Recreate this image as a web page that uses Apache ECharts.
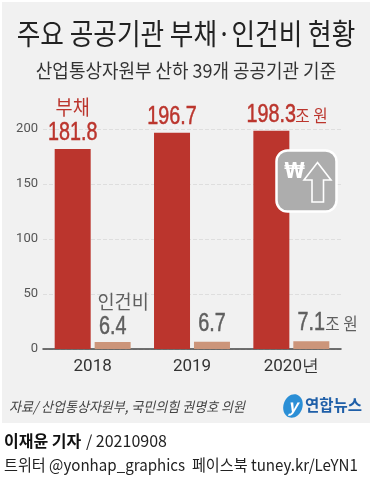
<!DOCTYPE html>
<html><head><meta charset="utf-8">
<style>html,body{margin:0;padding:0;background:#fff}#c{width:372px;height:500px}</style>
<script src="https://cdn.jsdelivr.net/npm/echarts@6/dist/echarts.min.js"></script>
</head><body><div id="c"></div>
<script>
const categories = ['2018', '2019', '2020년'];
const debt = [181.8, 196.7, 198.3];
const labor = [6.4, 6.7, 7.1];
const yTicks = [0, 50, 100, 150, 200];
const KR = '"Noto Sans CJK KR","Noto Sans",sans-serif';
const NUM = '"Liberation Sans",Arial,sans-serif';
const RED = '#bb352d', TAN = '#cc957a', GREY = '#5f5f5f';

function txt(x, y, text, size, color, align, extra, sx, z) {
  return {type:'text', x, y, z:z||50, silent:true, scaleX:sx||1,
    style:Object.assign({text, fontSize:size, fill:color, fontFamily:KR, align:align||'center', verticalAlign:'middle'}, extra||{})};
}
function label(x, y, text, size, color, font, sx, align, bold) {
  return {type:'text', x, y, scaleX:sx, silent:true,
    style:{text, fontSize:size, fontFamily:font, fill:color, align:align||'center', verticalAlign:'middle',
      stroke:bold?color:null, lineWidth:bold?0.5:0}};
}
function debtLabel(params, api) {
  const i = params.dataIndex, p = api.coord([api.value(0), api.value(1)]);
  const cx = p[0] - 20, cy = p[1] - 16;
  const children = [label(cx, cy, String(api.value(1)), 25, RED, NUM, 0.79, 'center', true)];
  if (i === 0) children.push(label(cx, cy - 26, '부채', 20, RED, KR, 0.93));
  if (i === 2) children.push(label(cx + 24, cy + 1, '조 원', 16.5, RED, KR, 0.95, 'left'));
  return {type:'group', children};
}
function laborLabel(params, api) {
  const i = params.dataIndex, p = api.coord([api.value(0), api.value(1)]);
  const cx = p[0] + 20, cy = p[1] - (i === 0 ? 15 : 18);
  const children = [label(cx, cy, String(api.value(1)), 25, GREY, NUM, 0.79, 'center', true)];
  if (i === 0) children.push(label(cx + 10.5, cy - 25, '인건비', 19, GREY, KR, 0.98));
  if (i === 2) children.push(label(cx + 14, cy + 1, '조 원', 16.5, GREY, KR, 0.95, 'left'));
  return {type:'group', children};
}
const chart = echarts.init(document.getElementById('c'), null, {renderer:'canvas'});
chart.setOption({
  animation:false,
  backgroundColor:'#fff',
  grid:{left:43, top:129, width:298, height:220, containLabel:false},
  xAxis:{type:'category', data:categories,
    axisLine:{lineStyle:{color:'#444', width:1.5}}, axisTick:{show:false},
    axisLabel:{fontFamily:'Roboto', fontSize:17, color:'#333', margin:9}},
  yAxis:{type:'value', min:0, max:200, interval:50,
    axisLine:{show:false}, axisTick:{show:false},
    axisLabel:{fontFamily:'Roboto', fontSize:13, color:'#555', margin:5, formatter:v=>yTicks.includes(v)?String(v):''},
    splitLine:{lineStyle:{color:'#dedede', type:'dashed', width:1}}},
  series:[
    {type:'bar', name:'부채', data:debt, barWidth:36, barGap:'11%', itemStyle:{color:RED}},
    {type:'bar', name:'인건비', data:labor, barWidth:36, itemStyle:{color:TAN}},
    {type:'custom', name:'부채 값', z:10, clip:false, silent:true, renderItem:debtLabel,
      data:debt.map((v,i)=>[categories[i], v]), encode:{x:0,y:1}},
    {type:'custom', name:'인건비 값', z:10, clip:false, silent:true, renderItem:laborLabel,
      data:labor.map((v,i)=>[categories[i], v]), encode:{x:0,y:1}}
  ],
  graphic:[
    {type:'rect', z:-10, silent:true, shape:{x:2,y:2,width:368,height:421}, style:{fill:'#f1f1f1'}},
    txt(186,34,'주요 공공기관 부채·인건비 현황',29,'#222','center',null,0.885),
    txt(186,71,'산업통상자원부 산하 39개 공공기관 기준',19,'#333','center',null,0.945),
    txt(9,407,'자료/ 산업통상자원부, 국민의힘 권명호 의원',14,'#444','left',{fontStyle:'italic'},0.93),
    {type:'rect', z:60, silent:true, shape:{x:276.5,y:150.5,width:60,height:61,r:11},
      style:{fill:'#adadad', stroke:'#fff', lineWidth:2.5}},
    {type:'polygon', z:61, silent:true, shape:{points:[[317.5,162.5],[331,180],[323.5,180],[323.5,202],[312,202],[312,180],[304,180]]},
      style:{fill:'#adadad', stroke:'#fff', lineWidth:1.6}},
    txt(294.5,172,'₩',22,'#fff','center',{fontWeight:'bold',fontFamily:'"DejaVu Sans",sans-serif'},0.85,62),
    {type:'ellipse', z:40, silent:true, rotation:-0.35, x:293, y:406, shape:{cx:0,cy:0,rx:9.5,ry:12}, style:{fill:'#2b8fd6'}},
    txt(293,406,'y',17,'#fff','center',{fontStyle:'italic',fontWeight:'bold'}),
    txt(362,405,'연합뉴스',15.5,'#1f5fa8','right',{fontWeight:'bold'}),
    txt(4,441,'이재윤 기자',16,'#111','left',{fontWeight:'bold'}),
    txt(86,441,'/ 20210908',16,'#222','left'),
    txt(4,465,'트위터 @yonhap_graphics  페이스북 tuney.kr/LeYN1',16,'#222','left',null,0.945)
  ]
});
</script></body></html>
